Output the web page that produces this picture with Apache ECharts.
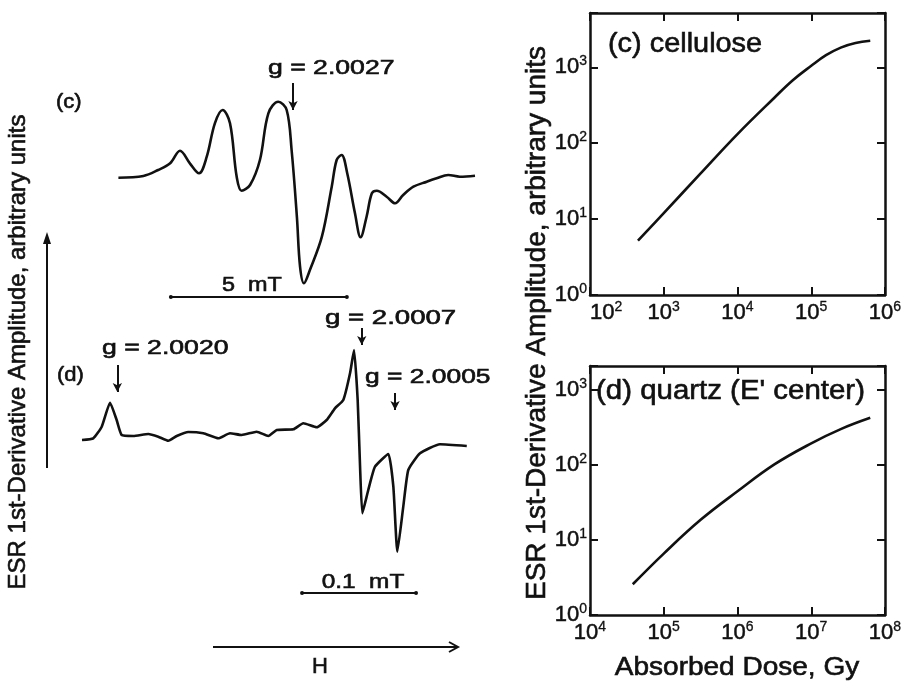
<!DOCTYPE html>
<html>
<head>
<meta charset="utf-8">
<script src="https://cdn.jsdelivr.net/npm/echarts@6/dist/echarts.min.js"></script>
<style>
  html, body { margin: 0; padding: 0; background: #fff; }
  #chart { width: 909px; height: 689px; }
</style>
</head>
<body>
<div id="chart"></div>
<script>
// ESR spectrum (c) cellulose: field in mT, amplitude in arbitrary units
const celluloseField = [0.04, 0.75, 1.17, 1.51, 1.79, 2.07, 2.33, 2.55, 2.78, 3.00, 3.21, 3.40, 3.54, 3.78, 4.06, 4.30, 4.58, 4.82, 4.96, 5.11, 5.20, 5.31, 5.48, 5.82, 6.10, 6.24, 6.38, 6.54, 6.76, 6.92, 7.09, 7.24, 7.38, 7.66, 7.90, 8.13, 8.42, 8.80, 9.08, 9.41, 9.74, 10.17];
const celluloseAmp = [-0.7, 1, 7, 13.7, 26.3, 13.7, 3.7, 20.3, 53.7, 67, 53.7, 0.3, -13.7, -8, 17, 63.7, 75.3, 67, 27, -39.7, -89.7, -106.3, -93, -59.7, -9.7, 17, 22, 3.7, -36.3, -60.3, -39.7, -16.3, -13.7, -19.7, -26.3, -18, -9.7, -4.7, -1.3, 2, 0.3, 1.3];

// ESR spectrum (d) quartz: field in uT, amplitude in arbitrary units
const quartzField = [0, 9.9, 17.3, 24.6, 30.4, 34.8, 45.0, 58.2, 66.9, 75.7, 83.1, 93.2, 106.4, 119.6, 129.8, 140.1, 153.2, 163.4, 170.8, 185.4, 194.1, 205.9, 214.6, 221.9, 229.2, 235.1, 238.6, 241.8, 243.9, 245.9, 251.1, 257.0, 268.7, 273.1, 276.6, 281.8, 286.2, 296.5, 314.0, 337.5];
const quartzAmp = [-3, -1.3, 10.3, 34.3, 17, 2, 1, 3, 0.3, -3.7, 1, 5, 3.7, -1.3, 3.7, 2, 5.3, 1, 7, 7.7, 13.7, 9.7, 17, 28.7, 37, 63.7, 87, 37, -29.7, -76.3, -53, -29.7, -17, -49.7, -114.7, -69.7, -33, -16.3, -7.3, -9];

// dose response curves (Gy vs arbitrary units)
const celluloseDose = [447, 1000, 3162, 10000, 31623, 56234, 100000, 158489, 251189, 398107, 630957];
const celluloseSignal = [5.2, 12, 40, 132, 398, 676, 1047, 1445, 1820, 2090, 2240];
const quartzDose = [38000, 100000, 316228, 1000000, 3162278, 10000000, 25118864, 63095734];
const quartzSignal = [2.57, 6.6, 18.6, 44.7, 102, 195, 302, 427];

// g-marker arrows: [field, amp from, amp to]
const celluloseMarks = [[5.0, 94, 67]];
const quartzMarks = [[31, 72, 45], [245.4, 109, 92], [274.6, 44, 27]];

const ink = "#111";
const font = "Liberation Sans, Arial, Helvetica, sans-serif";

function zip(a, b) {
  return a.map((v, i) => [v, b[i]]);
}

function arrowLines(marks) {
  return marks.map((m) => [{ coord: [m[0], m[1]] }, { coord: [m[0], m[2]] }]);
}

function decadeLabel(v) {
  const e = Math.log10(v);
  const r = Math.round(e);
  if (Math.abs(e - r) > 1e-6) return "";
  return "{b|10}{s|" + r + "}";
}

const rich = {
  b: { fontSize: 22, fontFamily: font, color: ink, lineHeight: 26, textBorderColor: ink, textBorderWidth: 0.5 },
  s: { fontSize: 14, fontFamily: font, color: ink, verticalAlign: "top", lineHeight: 14, textBorderColor: ink, textBorderWidth: 0.3 },
};

function logAxis(grid, pos, min, max, labels, extra) {
  return Object.assign(
    {
      type: "log",
      logBase: 10,
      gridIndex: grid,
      position: pos,
      min: min,
      max: max,
      axisLine: { show: true, onZero: false, lineStyle: { color: ink, width: 2.5 } },
      axisTick: { show: true, inside: true, length: 8, lineStyle: { color: ink, width: 2 } },
      minorTick: { show: false },
      splitLine: { show: false },
      axisLabel: {
        show: labels,
        formatter: decadeLabel,
        rich: rich,
        margin: pos === "bottom" ? 5 : 3,
      },
    },
    extra || {}
  );
}

function txt(x, y, text, size, opt) {
  opt = opt || {};
  return {
    type: "text",
    x: x,
    y: y,
    rotation: opt.rot || 0,
    scaleX: opt.sx || 1,
    silent: true,
    style: {
      text: text,
      fill: ink,
      stroke: ink,
      lineWidth: 0.6,
      fontSize: size,
      fontFamily: font,
      align: opt.align || "left",
      verticalAlign: "middle",
    },
  };
}

const chart = echarts.init(document.getElementById("chart"));

chart.setOption({
  animation: false,
  backgroundColor: "#fff",
  grid: [
    { left: 117, top: 80, width: 358, height: 220, outerBoundsMode: "none" },
    { left: 82, top: 300, width: 385, height: 310, outerBoundsMode: "none" },
    { left: 590, top: 13, width: 295, height: 282, outerBoundsMode: "none" },
    { left: 590, top: 366, width: 295, height: 249, outerBoundsMode: "none" },
  ],
  xAxis: [
    { type: "value", gridIndex: 0, min: 0, max: 10.17, show: false },
    { type: "value", gridIndex: 1, min: 0, max: 337.7, show: false },
    logAxis(2, "bottom", 100, 1000000, true, { axisLabel: { show: true, formatter: decadeLabel, rich: rich, margin: 5, alignMinLabel: "left" } }),
    logAxis(2, "top", 100, 1000000, false),
    logAxis(3, "bottom", 10000, 100000000, true),
    logAxis(3, "top", 10000, 100000000, false),
  ],
  yAxis: [
    { type: "value", gridIndex: 0, min: -123, max: 97, show: false },
    { type: "value", gridIndex: 1, min: -173, max: 137, show: false },
    logAxis(2, "left", 1, 5200, true),
    logAxis(2, "right", 1, 5200, false),
    logAxis(3, "left", 1, 2100, true),
    logAxis(3, "right", 1, 2100, false),
  ],
  series: [
    {
      type: "line",
      xAxisIndex: 0,
      yAxisIndex: 0,
      data: zip(celluloseField, celluloseAmp),
      smooth: 0.35,
      showSymbol: false,
      silent: true,
      lineStyle: { color: ink, width: 2.6 },
      markLine: {
        silent: true,
        symbol: ["none", "arrow"],
        symbolSize: [7, 9],
        label: { show: false },
        lineStyle: { color: ink, width: 2, type: "solid" },
        data: arrowLines(celluloseMarks).concat([
          [
            { coord: [1.53, -120], symbol: "circle", symbolSize: 4 },
            { coord: [6.53, -120], symbol: "circle", symbolSize: 4 },
          ],
        ]),
      },
    },
    {
      type: "line",
      xAxisIndex: 1,
      yAxisIndex: 1,
      data: zip(quartzField, quartzAmp),
      smooth: 0.15,
      showSymbol: false,
      silent: true,
      lineStyle: { color: ink, width: 2.6 },
      markLine: {
        silent: true,
        symbol: ["none", "arrow"],
        symbolSize: [7, 9],
        label: { show: false },
        lineStyle: { color: ink, width: 2, type: "solid" },
        data: arrowLines(quartzMarks).concat([
          [
            { coord: [193, -156], symbol: "circle", symbolSize: 4 },
            { coord: [293, -156], symbol: "circle", symbolSize: 4 },
          ],
        ]),
      },
    },
    {
      type: "line",
      xAxisIndex: 2,
      yAxisIndex: 2,
      data: zip(celluloseDose, celluloseSignal),
      smooth: 0.4,
      showSymbol: false,
      silent: true,
      lineStyle: { color: ink, width: 2.6 },
    },
    {
      type: "line",
      xAxisIndex: 4,
      yAxisIndex: 4,
      data: zip(quartzDose, quartzSignal),
      smooth: 0.4,
      showSymbol: false,
      silent: true,
      lineStyle: { color: ink, width: 2.6 },
    },
  ],
  graphic: [
    // left panel labels
    txt(56, 102, "(c)", 20, { sx: 1.1 }),
    txt(268, 68, "g = 2.0027", 20, { sx: 1.33 }),
    txt(252, 285, "5  mT", 20, { align: "center", sx: 1.17 }),
    txt(57, 375, "(d)", 20, { sx: 1.1 }),
    txt(102, 348, "g = 2.0020", 20, { sx: 1.33 }),
    txt(325, 318, "g = 2.0007", 20, { sx: 1.38 }),
    txt(365, 377, "g = 2.0005", 20, { sx: 1.32 }),
    txt(363, 582, "0.1  mT", 20, { align: "center", sx: 1.22 }),
    txt(320, 667, "H", 22, { align: "center" }),
    txt(18, 352, "ESR 1st-Derivative Amplitude, arbitrary units", 24, { align: "center", rot: Math.PI / 2 }),
    // field arrow H
    { type: "line", silent: true, shape: { x1: 213, y1: 647, x2: 457, y2: 647 }, style: { stroke: ink, lineWidth: 2 } },
    { type: "polyline", silent: true, shape: { points: [[449, 642], [458, 647], [449, 652]] }, style: { stroke: ink, lineWidth: 2, fill: null } },
    // amplitude arrow
    { type: "line", silent: true, shape: { x1: 47, y1: 468, x2: 47, y2: 236 }, style: { stroke: ink, lineWidth: 2 } },
    { type: "polygon", silent: true, shape: { points: [[43, 244], [47, 232], [51, 244]] }, style: { fill: ink } },
    // right panel labels
    txt(608, 45, "(c) cellulose", 27, { sx: 1.07 }),
    txt(596, 392, "(d) quartz (E' center)", 27, { sx: 1.09 }),
    txt(737, 668, "Absorbed Dose, Gy", 25, { align: "center", sx: 1.12 }),
    txt(537, 323, "ESR 1st-Derivative Amplitude, arbitrary units", 28, { align: "center", rot: Math.PI / 2 }),
  ],
});
</script>
</body>
</html>
